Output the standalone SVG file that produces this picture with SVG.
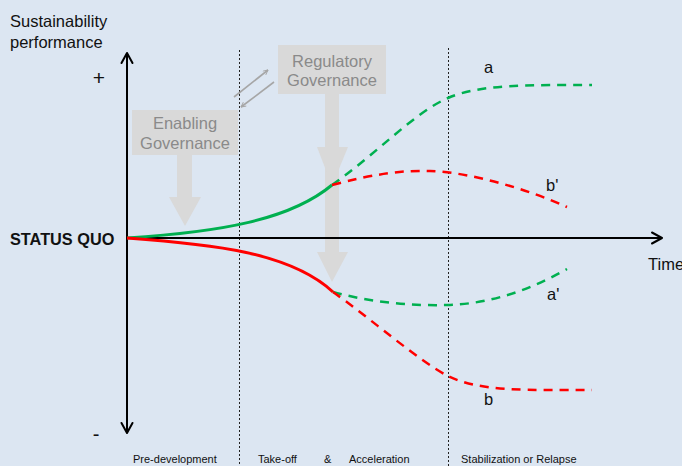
<svg xmlns="http://www.w3.org/2000/svg" width="682" height="466" viewBox="0 0 682 466">
  <style>
    text { font-family: "Liberation Sans", Arial, sans-serif; fill: #111; }
    .lbl { font-size: 16.5px; }
    .phase { font-size: 11px; fill: #111; }
    .gov { font-size: 16.5px; fill: #8a8a8a; text-anchor: middle; }
    .shape { fill: #d9d9d9; }
    .divider { stroke: #222; stroke-width: 1; stroke-dasharray: 2 2; fill: none; }
    .axis { stroke: #000; stroke-width: 2; fill: none; }
    .head { stroke: #000; stroke-width: 2; fill: none; stroke-linecap: round; stroke-linejoin: round; }
    .solid-g { stroke: #00b050; stroke-width: 3; fill: none; }
    .solid-r { stroke: #ff0000; stroke-width: 3; fill: none; }
    .dash-g { stroke: #00b050; stroke-width: 2.5; fill: none; stroke-dasharray: 9 7; }
    .dash-r { stroke: #ff0000; stroke-width: 2.5; fill: none; stroke-dasharray: 9 7; }
    .link { stroke: #a6a6a6; stroke-width: 1.6; fill: none; }
  </style>
  <defs>
    <marker id="grayHead" viewBox="0 0 10 10" refX="9" refY="5" markerWidth="6" markerHeight="6" orient="auto" markerUnits="userSpaceOnUse">
      <path d="M1,1 L9,5 L1,9" fill="none" stroke="#a6a6a6" stroke-width="1.6"/>
    </marker>
  </defs>

  <rect width="682" height="466" fill="#dce6f2"/>

  <!-- phase dividers -->
  <g id="dividers">
    <line class="divider" x1="239.5" y1="50" x2="239.5" y2="466"/>
    <line class="divider" x1="448.5" y1="48" x2="448.5" y2="466"/>
  </g>

  <!-- governance interventions -->
  <g id="enabling-governance">
    <rect class="shape" x="132" y="110" width="106" height="45"/>
    <path class="shape" d="M177,154 H192 V197 H201 L185,226 L169,197 H177 Z"/>
    <text class="gov" x="185" y="129">Enabling</text>
    <text class="gov" x="185" y="149">Governance</text>
  </g>

  <g id="regulatory-governance">
    <rect class="shape" x="278" y="45" width="108" height="49"/>
    <rect class="shape" x="325" y="93" width="14" height="160"/>
    <path class="shape" d="M317,147 H348 L332,186 Z"/>
    <path class="shape" d="M317,252 H348 L332,282 Z"/>
    <text class="gov" x="332" y="67">Regulatory</text>
    <text class="gov" x="332" y="86">Governance</text>
  </g>

  <!-- axes -->
  <g id="axes">
    <line class="axis" x1="127" y1="53" x2="127" y2="433"/>
    <path class="head" d="M121.5,63 L127,53 L132.5,63"/>
    <path class="head" d="M121.5,423 L127,433 L132.5,423"/>
    <line class="axis" x1="127" y1="238" x2="662" y2="238"/>
    <path class="head" d="M652,232.5 L662,238 L652,243.5"/>
  </g>

  <!-- trajectories and governance links -->
  <g id="connectors">
    <line class="link" x1="234" y1="97" x2="268" y2="70" marker-end="url(#grayHead)"/>
    <line class="link" x1="274" y1="82" x2="241" y2="107" marker-end="url(#grayHead)"/>

    <path class="solid-g" d="M127,238 C220,232 290,220 332,185"/>
    <path class="solid-r" d="M127,238 C210,244 290,252 333,292"/>

    <path class="dash-g" d="M332,185 C375,155 415,112 448,98 C480,84 530,85 592,85"/>
    <path class="dash-r" d="M332,185 C370,175 400,170 430,171 C470,172 530,190 567,207"/>
    <path class="dash-g" d="M333,292 C370,302 410,306 447,305 C490,304 530,290 567,269"/>
    <path class="dash-r" d="M333,292 C370,318 420,362 448,376 C480,392 530,390 592,390"/>
  </g>

  <!-- labels -->
  <g id="labels">
    <text class="lbl" x="10" y="26.5">Sustainability</text>
    <text class="lbl" x="10" y="48">performance</text>
    <text x="99" y="85" font-size="21" text-anchor="middle">+</text>
    <text x="96" y="441" font-size="20" text-anchor="middle">-</text>
    <text x="10" y="245" font-size="16.3" font-weight="bold">STATUS QUO</text>
    <text class="lbl" x="648" y="270">Time</text>
    <text class="lbl" x="484" y="73">a</text>
    <text class="lbl" x="546" y="191">b'</text>
    <text class="lbl" x="547" y="300">a'</text>
    <text class="lbl" x="484" y="405">b</text>
    <text class="phase" x="133" y="463">Pre-development</text>
    <text class="phase" x="258" y="463">Take-off</text>
    <text class="phase" x="324" y="463">&amp;</text>
    <text class="phase" x="349" y="463">Acceleration</text>
    <text class="phase" x="461" y="463">Stabilization or Relapse</text>
  </g>
</svg>
